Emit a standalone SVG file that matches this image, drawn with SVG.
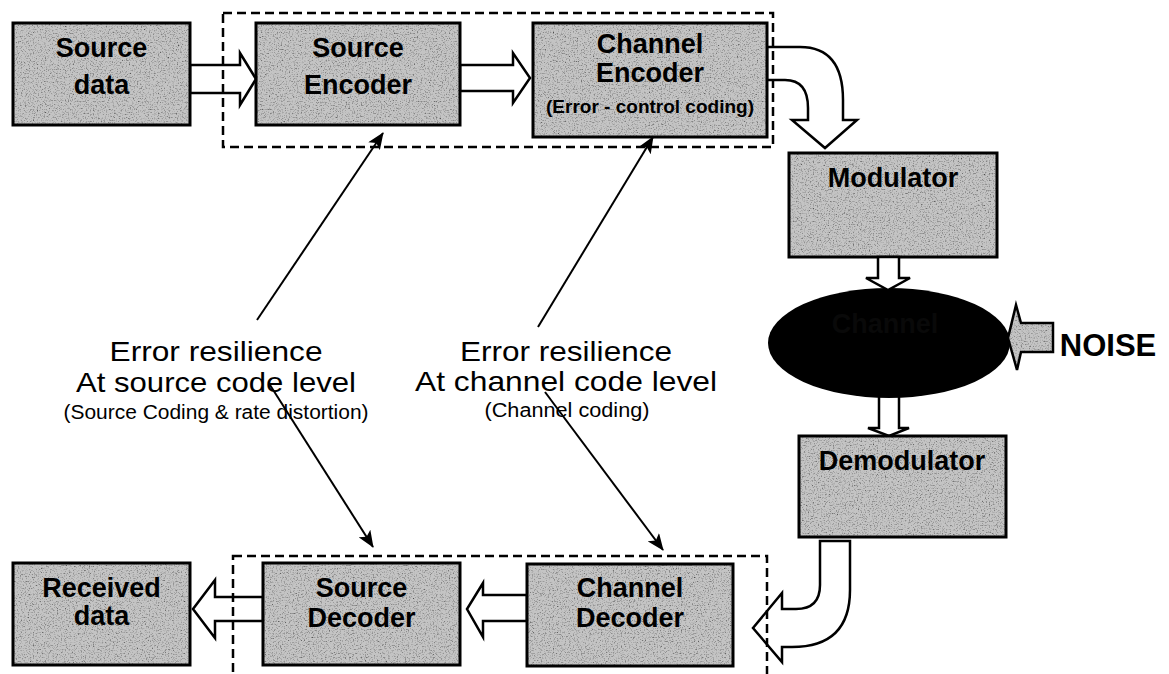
<svg xmlns="http://www.w3.org/2000/svg" width="1169" height="674" viewBox="0 0 1169 674">
  <style>
    .box { fill: #c4c4c4; stroke: none; }
    .frame { fill: none; stroke: #000; stroke-width: 3; }
    .label { font-family: "Liberation Sans", Arial, sans-serif; font-weight: bold; font-size: 27px; fill: #000; text-anchor: middle; }
    .small { font-size: 19px; }
    .note { font-family: "Liberation Sans", Arial, sans-serif; font-size: 28px; fill: #000; text-anchor: middle; }
    .sub { font-size: 20px; }
    .block { fill: #fff; stroke: #000; stroke-width: 2.5; stroke-linejoin: miter; }
    .dash { fill: none; stroke: #000; stroke-width: 2.5; stroke-dasharray: 9 5; }
    .thin { fill: none; stroke: #000; stroke-width: 2; marker-end: url(#tip); }
  </style>
  <defs>
    <marker id="tip" markerUnits="userSpaceOnUse" markerWidth="18" markerHeight="14" refX="16" refY="7" orient="auto">
      <path d="M0,0 L17,7 L0,14 L4,7 Z" fill="#000"/>
    </marker>
    <!-- speckled grey fill for the blocks -->
    <filter id="grain" x="0" y="0" width="100%" height="100%">
      <feTurbulence type="fractalNoise" baseFrequency="0.75" numOctaves="3" seed="5" result="noise"/>
      <feColorMatrix in="noise" type="matrix" values="0 0 0 0 0  0 0 0 0 0  0 0 0 0 0  2.2 0 0 0 -1.1" result="dots"/>
      <feComposite in="dots" in2="SourceGraphic" operator="in" result="clipped"/>
      <feMerge><feMergeNode in="SourceGraphic"/><feMergeNode in="clipped"/></feMerge>
    </filter>
  </defs>

  <rect width="1169" height="674" fill="#fff"/>

  <!-- block arrows between stages -->
  <g id="connectors">
    <path class="block" d="M190,65 L240,65 L240,53 L256,79 L240,105 L240,93 L190,93 Z"/>
    <path class="block" d="M460,65 L513,65 L513,53 L530,78 L513,103 L513,91 L460,91 Z"/>
    <path class="block" d="M767,47 L800,47 Q843,47 843,100 L843,120 L857,120 L825,148 L792,120 L808,120 L808,108 Q808,80 785,80 L767,80 Z"/>
    <path class="block" d="M879,390 L879,428 L868,428 L889,436 L909,428 L899,428 L899,390 Z"/>
    <path class="block" d="M820,541 L850,541 L850,590 Q850,647 792,647 L782,647 L782,662 L753,628 L782,593 L782,609 L796,609 Q820,609 820,585 Z"/>
    <path class="block" d="M527,595 L483,595 L483,583 L467,609 L483,637 L483,621 L527,621 Z"/>
    <path class="block" d="M263,597 L215,597 L215,580 L193,609 L215,638 L215,621 L263,621 Z"/>
    <!-- resilience pointers -->
    <line class="thin" x1="257" y1="320" x2="383" y2="133"/>
    <line class="thin" x1="538" y1="327" x2="653" y2="137"/>
    <line class="thin" x1="270" y1="385" x2="373" y2="547"/>
    <line class="thin" x1="545" y1="392" x2="663" y2="550"/>
  </g>

  <g id="source-data">
    <rect class="box" x="13" y="23" width="177" height="102" filter="url(#grain)"/>
    <rect class="frame" x="13" y="23" width="177" height="102"/>
    <text class="label" x="101.5" y="57">Source</text>
    <text class="label" x="101.5" y="94">data</text>
  </g>

  <g id="source-encoder">
    <rect class="box" x="256" y="23" width="204" height="102" filter="url(#grain)"/>
    <rect class="frame" x="256" y="23" width="204" height="102"/>
    <text class="label" x="358" y="57">Source</text>
    <text class="label" x="358" y="94">Encoder</text>
  </g>

  <g id="channel-encoder">
    <rect class="box" x="533" y="23" width="234" height="114" filter="url(#grain)"/>
    <rect class="frame" x="533" y="23" width="234" height="114"/>
    <text class="label" x="650" y="53">Channel</text>
    <text class="label" x="650" y="82">Encoder</text>
    <text class="label small" x="650" y="113">(Error - control coding)</text>
  </g>

  <g id="modulator">
    <rect class="box" x="789" y="153" width="208" height="104" filter="url(#grain)"/>
    <rect class="frame" x="789" y="153" width="208" height="104"/>
    <text class="label" x="893" y="187">Modulator</text>
  </g>

  <g id="channel">
    <ellipse cx="889" cy="343" rx="121" ry="55" fill="#000"/>
    <text class="label" x="885" y="333" style="fill:#090909">Channel</text>
    <path class="block" d="M878,257 L878,278 L866,278 L888,290 L910,278 L899,278 L899,257 Z"/>
  </g>

  <g id="noise">
    <path d="M1053,323 L1021,323 L1016,305 L1008,338 L1017,370 L1021,352 L1053,352 Z" fill="#c4c4c4" filter="url(#grain)"/>
    <path d="M1053,323 L1021,323 L1016,305 L1008,338 L1017,370 L1021,352 L1053,352 Z" fill="none" stroke="#000" stroke-width="2.5"/>
    <text class="label" x="1108" y="356" style="font-size:31px">NOISE</text>
  </g>

  <g id="demodulator">
    <rect class="box" x="799" y="436" width="207" height="101" filter="url(#grain)"/>
    <rect class="frame" x="799" y="436" width="207" height="101"/>
    <text class="label" x="902" y="470">Demodulator</text>
  </g>

  <g id="channel-decoder">
    <rect class="box" x="527" y="564" width="206" height="102" filter="url(#grain)"/>
    <rect class="frame" x="527" y="564" width="206" height="102"/>
    <text class="label" x="630" y="597">Channel</text>
    <text class="label" x="630" y="627">Decoder</text>
  </g>

  <g id="source-decoder">
    <rect class="box" x="263" y="563" width="197" height="102" filter="url(#grain)"/>
    <rect class="frame" x="263" y="563" width="197" height="102"/>
    <text class="label" x="361.5" y="597">Source</text>
    <text class="label" x="361.5" y="627">Decoder</text>
  </g>

  <g id="received-data">
    <rect class="box" x="13" y="563" width="177" height="102" filter="url(#grain)"/>
    <rect class="frame" x="13" y="563" width="177" height="102"/>
    <text class="label" x="101.5" y="597">Received</text>
    <text class="label" x="101.5" y="625">data</text>
  </g>

  <!-- encoder and decoder groupings -->
  <g id="groupings">
    <rect class="dash" x="223" y="13" width="550" height="134"/>
    <rect class="dash" x="233" y="556" width="534" height="140"/>
  </g>

  <g id="source-resilience">
    <text class="note" x="216" y="361" textLength="213" lengthAdjust="spacingAndGlyphs">Error resilience</text>
    <text class="note" x="216" y="392" textLength="280" lengthAdjust="spacingAndGlyphs">At source code level</text>
    <text class="note sub" x="216" y="419" textLength="305" lengthAdjust="spacingAndGlyphs">(Source Coding &amp; rate distortion)</text>
  </g>

  <g id="channel-resilience">
    <text class="note" x="566" y="361" textLength="212" lengthAdjust="spacingAndGlyphs">Error resilience</text>
    <text class="note" x="566" y="391" textLength="302" lengthAdjust="spacingAndGlyphs">At channel code level</text>
    <text class="note sub" x="567" y="417" textLength="165" lengthAdjust="spacingAndGlyphs">(Channel coding)</text>
  </g>
</svg>
